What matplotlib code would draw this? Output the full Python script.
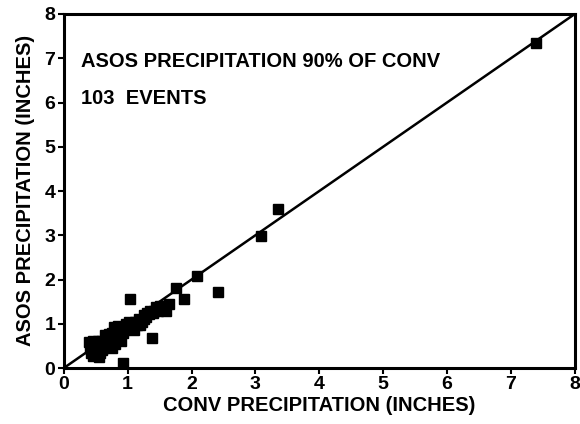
#!/usr/bin/env python3
import matplotlib.pyplot as plt

plt.rcParams['font.family'] = ['Liberation Sans', 'DejaVu Sans']
plt.rcParams['font.weight'] = 'bold'

# precipitacao por evento (polegadas): convencional x ASOS
conv = [7.40, 3.35, 3.08, 2.08, 2.42, 1.75, 1.88, 1.03, 1.38, 0.93,
        1.65, 1.60, 1.55, 1.50, 1.45, 1.42, 1.35, 1.30, 1.28, 1.25,
        1.22, 1.20, 1.18, 1.12, 1.10, 1.05, 1.02, 1.00, 0.98, 0.95,
        0.92, 0.90, 0.88, 0.85, 0.85, 0.82, 0.80, 0.80, 0.78, 0.76,
        0.75, 0.74, 0.72, 0.70, 0.70, 0.68, 0.66, 0.65, 0.64, 0.62,
        0.60, 0.60, 0.58, 0.57, 0.55, 0.55, 0.53, 0.52, 0.50, 0.50,
        0.48, 0.47, 0.46, 0.45, 0.44, 0.43, 0.42, 0.42, 0.41, 0.40,
        0.45, 0.48, 0.52, 0.56, 0.58, 0.62, 0.66, 0.70, 0.72, 0.76,
        0.78, 0.82, 0.86, 0.88, 0.90, 0.94, 0.97, 1.08, 1.15, 1.26,
        1.33, 1.40, 1.48, 1.58, 0.44, 0.50, 0.54, 0.60, 0.68, 0.74,
        0.84, 0.96, 1.14]
asos = [7.35, 3.60, 2.98, 2.08, 1.72, 1.80, 1.55, 1.57, 0.67, 0.12,
        1.45, 1.30, 1.35, 1.40, 1.38, 1.30, 1.30, 1.25, 1.15, 1.20,
        1.05, 0.97, 1.10, 1.05, 0.85, 1.00, 1.05, 0.92, 1.00, 0.90,
        0.80, 0.60, 0.85, 0.75, 0.95, 0.70, 0.88, 0.55, 0.92, 0.45,
        0.80, 0.65, 0.72, 0.60, 0.78, 0.50, 0.68, 0.55, 0.75, 0.45,
        0.62, 0.40, 0.55, 0.35, 0.50, 0.25, 0.60, 0.42, 0.55, 0.30,
        0.48, 0.38, 0.60, 0.28, 0.50, 0.42, 0.55, 0.35, 0.45, 0.58,
        0.40, 0.32, 0.36, 0.45, 0.48, 0.58, 0.60, 0.66, 0.55, 0.70,
        0.62, 0.80, 0.68, 0.72, 0.82, 0.85, 0.95, 0.95, 1.00, 1.10,
        1.22, 1.25, 1.30, 1.38, 0.36, 0.45, 0.52, 0.48, 0.62, 0.58,
        0.82, 0.88, 0.98]

ticks = [0, 1, 2, 3, 4, 5, 6, 7, 8]

fig = plt.figure(figsize=(5.8, 4.24), dpi=100)
ax = fig.add_axes([0.110, 0.132, 0.881, 0.835])

ax.plot([0, 8], [0, 8], color='black', lw=1.8)
ax.plot(conv, asos, 's', color='black', ms=7.5, mec='black')

ax.set_xlim(0, 8)
ax.set_ylim(0, 8)
ax.set_xticks(ticks)
ax.set_yticks(ticks)
ax.tick_params(direction='out', length=4, width=1.5, labelsize=14, pad=2)
for s in ax.spines.values():
    s.set_linewidth(2.2)

ax.set_xlabel('CONV PRECIPITATION (INCHES)', fontsize=14.5, fontweight='bold')
ax.set_ylabel('ASOS PRECIPITATION (INCHES)', fontsize=14.5, fontweight='bold')
ax.xaxis.set_label_coords(0.5, -0.078)
ax.yaxis.set_label_coords(-0.057, 0.503)

ax.text(0.033, 0.865, 'ASOS PRECIPITATION 90% OF CONV', transform=ax.transAxes,
        fontsize=14.5, fontweight='bold', va='center')
ax.text(0.033, 0.76, '103  EVENTS', transform=ax.transAxes,
        fontsize=14.5, fontweight='bold', va='center')

fig.savefig('out.png', dpi=100)
